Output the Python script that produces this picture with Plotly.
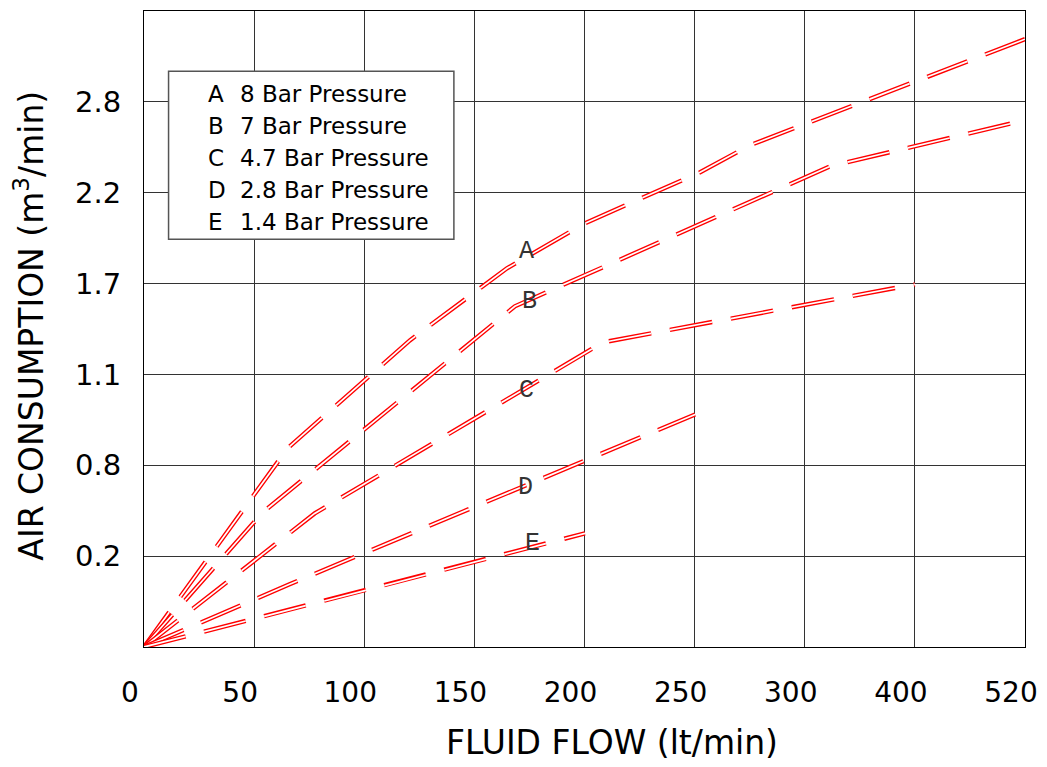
import numpy as np
import plotly.graph_objects as go

# ---------------- data ----------------
X_TICK_VALUES = [0, 50, 100, 150, 200, 250, 300, 400, 520]
X_TICK_LABELS = ["0", "50", "100", "150", "200", "250", "300", "400", "520"]
# first / last value = unlabeled bottom and top edges of the frame
Y_TICK_VALUES = [0, 0.2, 0.8, 1.1, 1.7, 2.2, 2.8, 3.4]
Y_TICK_LABELS = ["0.2", "0.8", "1.1", "1.7", "2.2", "2.8"]

CURVE_LETTERS = ["A", "B", "C", "D", "E"]
CURVE_NAMES = ["8 Bar Pressure", "7 Bar Pressure", "4.7 Bar Pressure",
               "2.8 Bar Pressure", "1.4 Bar Pressure"]

FLOW_A = [0, 65.2, 120.7, 164.8, 200.2, 252.5, 275.2, 520]
AIR_A = [0, 0.856, 1.325, 1.784, 2.032, 2.335, 2.514, 3.214]
FLOW_B = [0, 53.9, 168.4, 323.2, 520]
AIR_B = [0, 0.489, 1.55, 2.375, 2.679]
FLOW_C = [0, 77.5, 208.4, 400]
AIR_C = [0, 0.482, 1.312, 1.695]
FLOW_D = [0, 66.1, 250.2]
AIR_D = [0, 0.138, 0.968]
FLOW_E = [0, 100.2, 200.2]
AIR_E = [0, 0.124, 0.35]

CURVES = [(FLOW_A, AIR_A), (FLOW_B, AIR_B), (FLOW_C, AIR_C),
          (FLOW_D, AIR_D), (FLOW_E, AIR_E)]

# the chart's axes are evenly spaced grid cells with uneven labels:
# map values onto grid-cell positions
X_POS = np.arange(len(X_TICK_VALUES))
Y_POS = np.arange(len(Y_TICK_VALUES))


def xs(v):
    return np.interp(v, X_TICK_VALUES, X_POS)


def ys(v):
    return np.interp(v, Y_TICK_VALUES, Y_POS)


FONT = "DejaVu Sans"
RED = "#ff0000"
DASH = "43px,19px"

fig = go.Figure()
for flow, air in CURVES:
    fig.add_trace(go.Scatter(x=xs(flow), y=ys(air), mode="lines",
                             line=dict(color=RED, width=4.4, dash=DASH),
                             hoverinfo="skip", showlegend=False))
    fig.add_trace(go.Scatter(x=xs(flow), y=ys(air), mode="lines",
                             line=dict(color="white", width=1.7, dash=DASH),
                             hoverinfo="skip", showlegend=False))

annotations = []
# curve letters next to the curves
label_pos = [(3.477, 4.356), (3.50, 3.80), (3.477, 2.826), (3.46, 1.76), (3.53, 1.14)]
for letter, (lx, ly) in zip(CURVE_LETTERS, label_pos):
    annotations.append(dict(x=lx, y=ly, xref="x", yref="y", text=letter,
                            showarrow=False, xanchor="center", yanchor="middle",
                            font=dict(family="Liberation Mono", size=25, color="#333")))

# legend box text
for i, (letter, name) in enumerate(zip(CURVE_LETTERS, CURVE_NAMES)):
    yy = 6.09 - i * 0.3524
    annotations.append(dict(x=0.56, y=yy, xref="x", yref="y", text=letter,
                            showarrow=False, xanchor="left", yanchor="middle",
                            font=dict(family=FONT, size=23, color="black")))
    annotations.append(dict(x=0.85, y=yy, xref="x", yref="y", text=name,
                            showarrow=False, xanchor="left", yanchor="middle",
                            font=dict(family=FONT, size=23, color="black")))

# axis titles
annotations.append(dict(x=0.531, y=-0.150, xref="paper", yref="paper",
                        text="FLUID FLOW (lt/min)", showarrow=False,
                        xanchor="center", yanchor="middle",
                        font=dict(family=FONT, size=33, color="black")))
annotations.append(dict(x=-0.130, y=0.506, xref="paper", yref="paper",
                        text="AIR CONSUMPTION (m<sup>3</sup>/min)", showarrow=False,
                        textangle=-90, xanchor="center", yanchor="middle",
                        font=dict(family=FONT, size=33, color="black")))

shapes = [dict(type="rect", xref="x", yref="y", x0=0.223, x1=2.814, y0=4.488, y1=6.338,
               line=dict(color="#555", width=1.5), fillcolor="white", layer="above")]

# page body has an 8px margin: figure is sized to fit the 1047x767 window
fig.update_layout(
    width=1039, height=759,
    margin=dict(l=136, r=22, t=3, b=120),
    paper_bgcolor="white", plot_bgcolor="white",
    annotations=annotations, shapes=shapes,
    showlegend=False,
    font=dict(family=FONT, color="black"),
)
fig.update_xaxes(range=[0, len(X_TICK_VALUES) - 1], tickmode="array",
                 tickvals=X_POS, ticktext=X_TICK_LABELS,
                 showgrid=True, gridcolor="#333", gridwidth=1.1,
                 showline=True, linecolor="black", linewidth=1.2, mirror=True,
                 zeroline=False, ticks="", ticklabelshift=-14, ticklabelstandoff=20,
                 tickfont=dict(family=FONT, size=28, color="black"),
                 fixedrange=True)
fig.update_yaxes(range=[0, len(Y_TICK_VALUES) - 1], tickmode="array",
                 tickvals=Y_POS[1:-1], ticktext=Y_TICK_LABELS,
                 showgrid=True, gridcolor="#333", gridwidth=1.1,
                 showline=True, linecolor="black", linewidth=1.2, mirror=True,
                 zeroline=False, ticks="", ticklabelstandoff=16,
                 tickfont=dict(family=FONT, size=29, color="black"),
                 fixedrange=True)

fig.write_html("out.html")
